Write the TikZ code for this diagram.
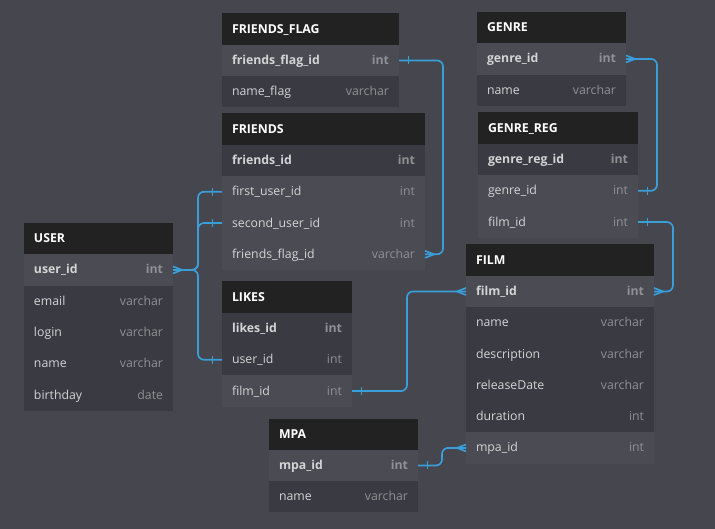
\documentclass[tikz,border=0pt]{standalone}
\usepackage{fontspec}
\setmainfont{Open Sans}

\definecolor{bgcol}{RGB}{69,70,78}
\definecolor{hdcol}{RGB}{34,34,34}
\definecolor{litecol}{RGB}{74,75,83}
\definecolor{darkcol}{RGB}{57,58,66}
\definecolor{linecol}{RGB}{58,158,216}
\definecolor{namecol}{RGB}{212,212,212}
\definecolor{typecol}{RGB}{145,145,148}

\begin{document}
\begin{tikzpicture}[x=1pt, y=-1pt,
    hdr/.style={fill=hdcol, text=white, font=\fontsize{12.3}{14}\selectfont\bfseries,
      anchor=north west, minimum height=31.3pt, text height=10pt, text depth=2pt,
      inner xsep=10pt, inner ysep=0pt, outer sep=0pt},
    fld/.style={anchor=north west, minimum height=31.3pt, text height=10pt, text depth=2pt,
      inner xsep=10pt, inner ysep=0pt, outer sep=0pt, text=namecol, font=\fontsize{12.3}{14}\selectfont},
    lite/.style={fld, fill=litecol},
    dark/.style={fld, fill=darkcol},
    pk/.style={font=\fontsize{12.3}{14}\selectfont\bfseries},
    link/.style={draw=linecol, line width=1.7pt, rounded corners=6pt},
    many/.pic={\draw[link, rounded corners=0pt] (0,-3.5) -- (9,0) -- (0,3.5);},
    one/.pic={\draw[link, rounded corners=0pt] (9.5,-4) -- (9.5,4);}]

  % one row of a table: name, style, node above, field, type
  \def\fld#1#2#3#4#5{\node[#2] (#1) at (#3.south west) {\hbox to \tw{#4\hfil\textcolor{typecol}{#5}}};}

  % background
  \fill[bgcol] (0,0) rectangle (715,529);
  \useasboundingbox (0,0) rectangle (715,529);

  % friends_flag
  \def\tw{157pt}
  \node[hdr] (ffhead) at (222,13.5) {\hbox to \tw{FRIENDS\_FLAG\hfil}};
  \fld{ffid}{lite,pk}{ffhead}{friends\_flag\_id}{int}
  \fld{ffname}{dark}{ffid}{name\_flag}{varchar}

  % friends
  \def\tw{183pt}
  \node[hdr] (frhead) at (222,113.5) {\hbox to \tw{FRIENDS\hfil}};
  \fld{frid}{dark,pk}{frhead}{friends\_id}{int}
  \fld{fruser1}{lite}{frid}{first\_user\_id}{int}
  \fld{fruser2}{lite}{fruser1}{second\_user\_id}{int}
  \fld{frflag}{lite}{fruser2}{friends\_flag\_id}{varchar}

  % genre
  \def\tw{129pt}
  \node[hdr] (gnhead) at (477,12) {\hbox to \tw{GENRE\hfil}};
  \fld{gnid}{lite,pk}{gnhead}{genre\_id}{int}
  \fld{gnname}{dark}{gnid}{name}{varchar}

  % genre_reg
  \def\tw{140pt}
  \node[hdr] (grhead) at (478,112.5) {\hbox to \tw{GENRE\_REG\hfil}};
  \fld{grid}{dark,pk}{grhead}{genre\_reg\_id}{int}
  \fld{grgenre}{lite}{grid}{genre\_id}{int}
  \fld{grfilm}{lite}{grgenre}{film\_id}{int}

  % film
  \def\tw{168pt}
  \node[hdr] (fmhead) at (466,244.5) {\hbox to \tw{FILM\hfil}};
  \fld{fmid}{lite,pk}{fmhead}{film\_id}{int}
  \fld{fmname}{dark}{fmid}{name}{varchar}
  \fld{fmdesc}{dark}{fmname}{description}{varchar}
  \fld{fmdate}{dark}{fmdesc}{releaseDate}{varchar}
  \fld{fmdur}{dark}{fmdate}{duration}{int}
  \fld{fmmpa}{lite}{fmdur}{mpa\_id}{int}

  % user
  \def\tw{129pt}
  \node[hdr] (ushead) at (24,223) {\hbox to \tw{USER\hfil}};
  \fld{usid}{lite,pk}{ushead}{user\_id}{int}
  \fld{usemail}{dark}{usid}{email}{varchar}
  \fld{uslogin}{dark}{usemail}{login}{varchar}
  \fld{usname}{dark}{uslogin}{name}{varchar}
  \fld{usbday}{dark}{usname}{birthday}{date}

  % likes
  \def\tw{110pt}
  \node[hdr] (lkhead) at (222,281.5) {\hbox to \tw{LIKES\hfil}};
  \fld{lkid}{dark,pk}{lkhead}{likes\_id}{int}
  \fld{lkuser}{dark}{lkid}{user\_id}{int}
  \fld{lkfilm}{lite}{lkuser}{film\_id}{int}

  % mpa
  \def\tw{129pt}
  \node[hdr] (mphead) at (269,418.5) {\hbox to \tw{MPA\hfil}};
  \fld{mpid}{lite,pk}{mphead}{mpa\_id}{int}
  \fld{mpname}{dark}{mpid}{name}{varchar}

  % links
  \draw[link] (ffid.east) -- ++(44,0) |- (frflag.east);
  \pic at (ffid.east) {one};
  \pic at (frflag.east) {many};

  \draw[link] (gnid.east) -- ++(31,0) |- (grgenre.east);
  \pic at (gnid.east) {many};
  \pic at (grgenre.east) {one};

  \draw[link] (grfilm.east) -- ++(35,0) |- (fmid.east);
  \pic at (grfilm.east) {one};
  \pic at (fmid.east) {many};

  \draw[link] (lkfilm.east) -- ++(55,0) |- (fmid.west);
  \pic at (lkfilm.east) {one};
  \pic[xscale=-1] at (fmid.west) {many};

  \draw[link] (mpid.east) -- ++(24,0) |- (fmmpa.west);
  \pic at (mpid.east) {one};
  \pic[xscale=-1] at (fmmpa.west) {many};

  % user links
  \draw[link] (usid.east) -- ++(25,0) |- (fruser1.west);
  \draw[link] (usid.east) -- ++(25,0) |- (fruser2.west);
  \draw[link] (usid.east) -- ++(25,0) |- (lkuser.west);
  \pic at (usid.east) {many};
  \pic[xscale=-1] at (fruser1.west) {one};
  \pic[xscale=-1] at (fruser2.west) {one};
  \pic[xscale=-1] at (lkuser.west) {one};
\end{tikzpicture}
\end{document}
